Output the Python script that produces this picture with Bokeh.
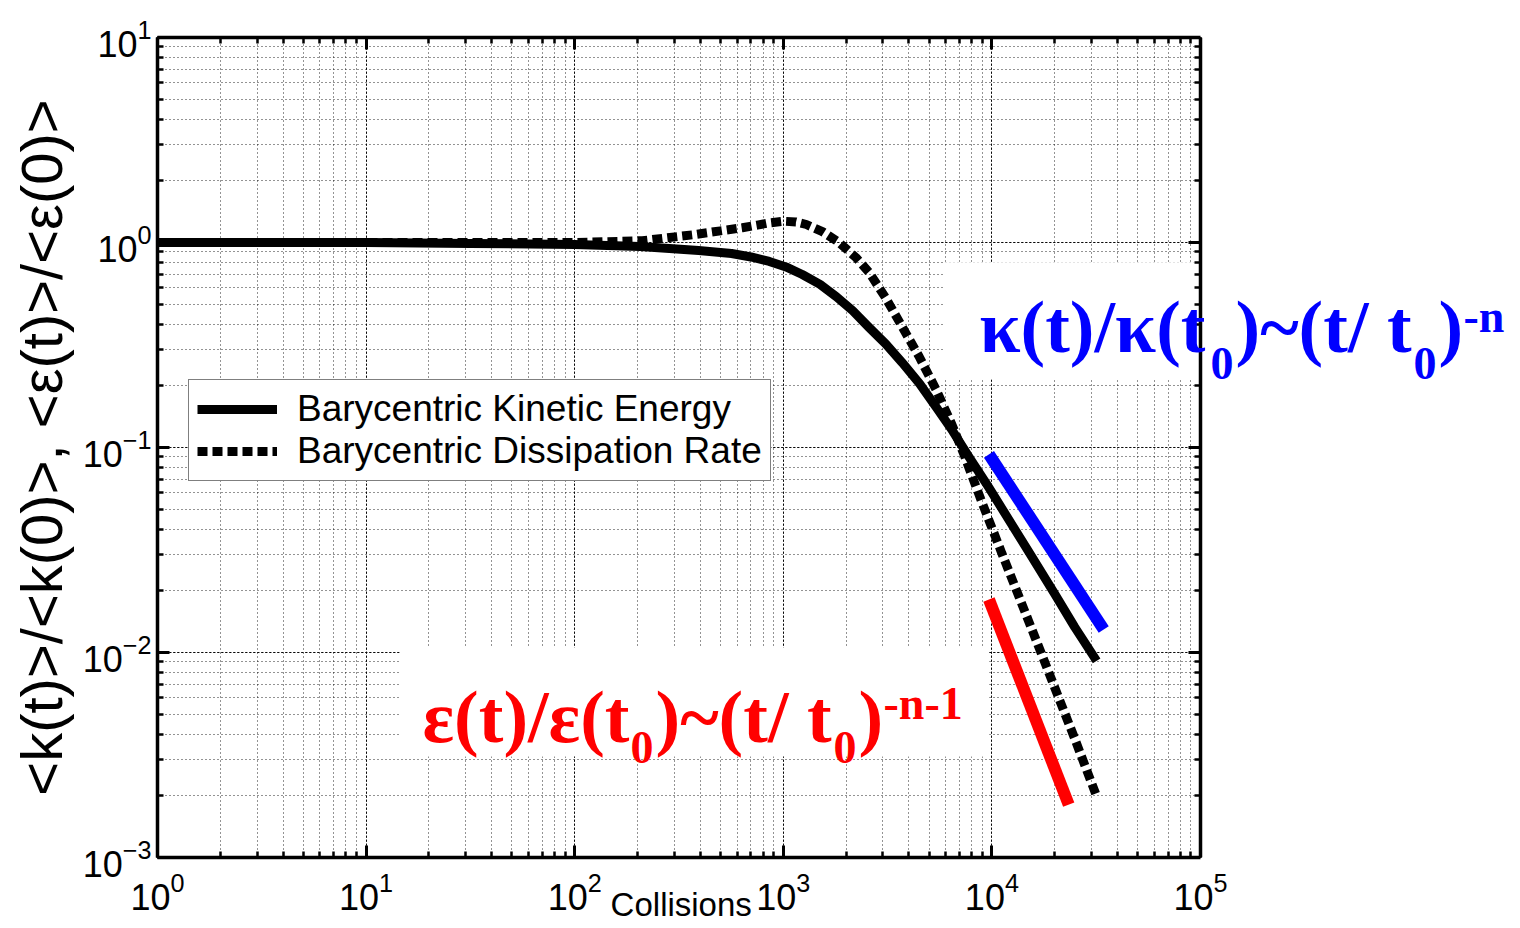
from bokeh.plotting import figure
from bokeh.models import (LogAxis, Label, BoxAnnotation, Legend, LegendItem, Range1d)
from bokeh.embed import file_html
from bokeh.resources import INLINE

# ---- data ----
collisions_k = [1, 10, 31.5, 100, 206, 393, 565, 700, 857, 1030, 1233, 1500, 1794,
                2150, 2578, 3100, 3709, 4500, 5395, 6500, 7760, 9600, 15030,
                20000, 24950, 31770]
kinetic = [1.0, 1.0, 0.99, 0.978, 0.956, 0.914, 0.884, 0.85, 0.808, 0.76, 0.698,
           0.625, 0.545, 0.465, 0.385, 0.32, 0.26, 0.205, 0.158, 0.12, 0.090,
           0.0645, 0.031, 0.0193, 0.0133, 0.0091]

collisions_d = [1, 10, 50, 100, 211, 367, 500, 636, 750, 850, 1000, 1150, 1290,
                1540, 1850, 2230, 2580, 3110, 3710, 4477, 5395, 6440, 7350, 8850,
                11170, 15030, 20000, 24950, 31770]
dissipation = [1.0, 1.0, 1.0, 1.0, 1.02, 1.09, 1.14, 1.18, 1.215, 1.245, 1.27,
               1.26, 1.224, 1.13, 1.0, 0.845, 0.714, 0.533, 0.389, 0.278, 0.192,
               0.129, 0.0924, 0.0558, 0.0304, 0.01416, 0.00675, 0.0038, 0.00199]

blue_x = [9680, 34360]
blue_y = [0.0926, 0.01295]
red_x = [9680, 23350]
red_y = [0.01814, 0.00181]

series_labels = ["Barycentric Kinetic Energy", "Barycentric Dissipation Rate"]
x_label = "Collisions"
y_label = "<k(t)>/<k(0)>, <\u03b5(t)>/<\u03b5(0)>"

X_MIN, X_MAX = 1, 1e5
Y_MIN, Y_MAX = 1e-3, 10

# The frame is widened past 10^5 so that the formula text (which overhangs the
# axes box in the reference) is not clipped; the region beyond 10^5 is blanked.
AXES_W = 1043                      # pixel width of the 1..1e5 axes box
FRAME_W = 1350
x_end = 10 ** (5 * FRAME_W / AXES_W)

p = figure(frame_width=FRAME_W, frame_height=820, x_axis_type="log",
           y_axis_type="log", x_range=Range1d(X_MIN, x_end),
           y_range=Range1d(Y_MIN, Y_MAX),
           output_backend="svg", toolbar_location=None,
           min_border_left=157, min_border_right=5, min_border_top=37,
           min_border_bottom=63)
p.background_fill_color = "white"
p.border_fill_color = None
p.outline_line_color = None

xa = p.below[0]
ya = p.left[0]
xa.bounds = (X_MIN, X_MAX)

# grids
for g in (p.xgrid[0], p.ygrid[0]):
    g.grid_line_color = "black"
    g.grid_line_dash = "2 2"
    g.grid_line_width = 1
    g.grid_line_alpha = 0.9
    g.minor_grid_line_color = "black"
    g.minor_grid_line_dash = "1 3"
    g.minor_grid_line_width = 1
    g.minor_grid_line_alpha = 0.85
p.xgrid[0].bounds = (X_MIN, X_MAX)
try:
    p.ygrid[0].cross_bounds = (X_MIN, X_MAX)
except Exception:
    pass

# blank the part of the frame beyond 10^5
p.add_layout(BoxAnnotation(left=X_MAX, right=x_end * 10, fill_color="white",
                           fill_alpha=1, line_color=None, level="underlay"))

right_ax = LogAxis(ticker=ya.ticker, fixed_location=X_MAX)
top_ax = LogAxis(ticker=xa.ticker, bounds=(X_MIN, X_MAX))
for ax in (right_ax, top_ax):
    ax.major_label_text_alpha = 0
    ax.major_label_text_color = "white"
    ax.major_label_text_font_size = "2px"
    ax.major_label_standoff = 0
p.add_layout(right_ax, "right")
p.add_layout(top_ax, "above")

for ax in (xa, ya, right_ax, top_ax):
    ax.axis_line_width = 3.5
    ax.axis_line_color = "black"
    ax.major_tick_in = 12
    ax.major_tick_out = 0
    ax.minor_tick_in = 6
    ax.minor_tick_out = 0
    ax.major_tick_line_width = 3
    ax.minor_tick_line_width = 2.5
    ax.major_tick_line_color = "black"
    ax.minor_tick_line_color = "black"

for ax in (xa, ya):
    ax.major_label_text_font = "Liberation Sans"
    ax.major_label_text_font_size = "36px"
    ax.major_label_text_color = "black"
    ax.axis_label_text_font = "Liberation Sans"
    ax.axis_label_text_font_style = "normal"
    ax.axis_label_text_color = "black"

xa.major_label_standoff = 14
ya.major_label_standoff = 6
# the label is centred on the widened frame; trailing no-break spaces move
# the visible word back under the 10^5 axes box, as in the reference
xa.axis_label = x_label + "\u00a0" * 33
xa.axis_label_text_font_size = "33px"
xa.axis_label_standoff = -27
ya.axis_label = y_label
ya.axis_label_text_font_size = "58px"
ya.axis_label_standoff = 6

# white boxes behind the formulas
p.add_layout(BoxAnnotation(left=5890, right=X_MAX, bottom=0.215, top=0.80,
                           fill_color="white", fill_alpha=1, line_color=None,
                           level="underlay"))
p.add_layout(BoxAnnotation(left=14.5, right=9700, bottom=0.00311, top=0.01057,
                           fill_color="white", fill_alpha=1, line_color=None,
                           level="underlay"))

# curves
r1 = p.line(collisions_k, kinetic, line_width=9, color="black", line_cap="butt",
            line_join="round")
r2 = p.line(collisions_d, dissipation, line_width=9, color="black",
            line_dash="10 5", line_cap="butt")

# power law guides
p.line(blue_x, blue_y, line_width=12, color="#0000ff", line_cap="butt")
p.line(red_x, red_y, line_width=12, color="#ff0000", line_cap="butt")

legend = Legend(items=[LegendItem(label=series_labels[0], renderers=[r1]),
                       LegendItem(label=series_labels[1], renderers=[r2])],
                location=(31, 376))
legend.border_line_color = "black"
legend.border_line_width = 1
legend.background_fill_color = "white"
legend.background_fill_alpha = 1
legend.label_text_font = "Liberation Sans"
legend.label_text_font_size = "37px"
legend.label_text_color = "black"
legend.glyph_width = 80
legend.glyph_height = 32
legend.label_height = 32
legend.spacing = 0
legend.padding = 8
legend.margin = 0
legend.label_standoff = 20
p.add_layout(legend)

# formula texts (frame-relative screen coords)
def lab(x, y, text, size, color):
    p.add_layout(Label(x=x, y=y, x_units="screen", y_units="screen", text=text,
                       text_font="Liberation Serif", text_font_style="bold",
                       text_font_size=size, text_color=color,
                       text_baseline="alphabetic", text_align="left"))

BLUE = "#0000ff"
RED = "#ff0000"
lab(822, 531, "\u03ba(t)/\u03ba(t", "74px", BLUE)
lab(1053, 494, "0", "46px", BLUE)
lab(1078, 531, ")~(t/ t", "74px", BLUE)
lab(1256, 494, "0", "46px", BLUE)
lab(1281, 531, ")", "74px", BLUE)
lab(1306, 541, "-n", "46px", BLUE)

lab(265, 141, "\u03b5(t)/\u03b5(t", "74px", RED)
lab(473, 110, "0", "46px", RED)
lab(498, 141, ")~(t/ t", "74px", RED)
lab(676, 110, "0", "46px", RED)
lab(701, 141, ")", "74px", RED)
lab(726, 154, "-n-1", "46px", RED)

open("out.html", "w").write(file_html(p, INLINE))
